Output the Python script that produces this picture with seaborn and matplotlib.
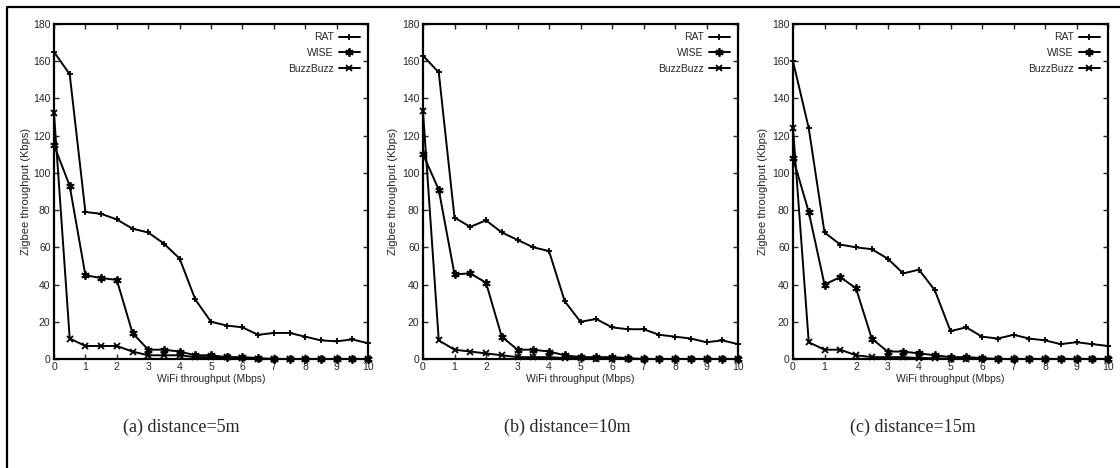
import numpy as np
import pandas as pd
import matplotlib
matplotlib.use("Agg")
import matplotlib.pyplot as plt
from matplotlib.lines import Line2D
import seaborn as sns

# ---- data ----
wifi_x = [0, 0.5, 1, 1.5, 2, 2.5, 3, 3.5, 4, 4.5, 5, 5.5, 6, 6.5, 7, 7.5, 8, 8.5, 9, 9.5, 10]

rat_5 = [165, 153, 79, 78, 75, 70, 68, 62, 54, 32, 20, 18, 17, 13, 14, 14, 12, 10, 9.5, 10.5, 8.5]
wise_5 = [115, 93, 45, 43.5, 42.5, 14, 5, 5, 4, 2, 2, 1, 1, 0.5, 0, 0, 0, 0, 0, 0, 0]
buzz_5 = [132, 11, 7, 7, 7, 4, 2, 2, 2, 1, 1, 1, 0.5, 0, 0, 0, 0, 0, 0, 0, 0]

rat_10 = [163, 154, 76, 71, 74.5, 68, 64, 60, 58, 31, 20, 21.5, 17, 16, 16, 13, 12, 11, 9, 10, 8]
wise_10 = [110, 91, 45.5, 46, 41, 12, 5, 5, 4, 2, 1, 1, 1, 0.5, 0, 0, 0, 0, 0, 0, 0]
buzz_10 = [133, 10, 5, 4, 3, 2, 1, 1, 1, 0.5, 0.5, 0, 0, 0, 0, 0, 0, 0, 0, 0, 0]

rat_15 = [160, 124, 68, 61.5, 60, 59, 54, 46, 48, 37, 15, 17, 12, 11, 13, 11, 10, 8, 9, 8, 7]
wise_15 = [108, 79, 40, 44, 38, 11, 4, 4, 3, 2, 1, 1, 0.5, 0, 0, 0, 0, 0, 0, 0, 0]
buzz_15 = [124, 9, 5, 5, 2, 1, 1, 1, 0.5, 0.5, 0, 0, 0, 0, 0, 0, 0, 0, 0, 0, 0]

series_names = ["RAT", "WISE", "BuzzBuzz"]
captions = ["(a) distance=5m", "(b) distance=10m", "(c) distance=15m"]
panels = [(rat_5, wise_5, buzz_5), (rat_10, wise_10, buzz_10), (rat_15, wise_15, buzz_15)]

x_ticks = list(range(0, 11))
y_ticks = list(range(0, 181, 20))
x_label = "WiFi throughput (Mbps)"
y_label = "Zigbee throughput (Kbps)"

# ---- style ----
sns.set_style("ticks")
plt.rcParams["font.family"] = ["Liberation Sans Narrow", "Liberation Sans", "DejaVu Sans"]

W, H = 1120, 468
fig = plt.figure(figsize=(W / 100, H / 100), dpi=100)

axes_px = [(54, 368), (423, 738), (793, 1108)]
top_px, bottom_px = 24, 359
caption_x = [181, 567, 913]

markers = ["+", (6, 2, 0), "x"]
msizes = [5, 6, 4.5]

for i, (vals, (l, r)) in enumerate(zip(panels, axes_px)):
    ax = fig.add_axes([l / W, 1 - bottom_px / H, (r - l) / W, (bottom_px - top_px) / H])
    for name, v, m, ms in zip(series_names, vals, markers, msizes):
        df = pd.DataFrame({"x": wifi_x, "y": v})
        sns.lineplot(data=df, x="x", y="y", ax=ax, color="black", lw=1.4,
                     marker=m, markersize=ms, markeredgewidth=1.3,
                     markeredgecolor="black", label=name, clip_on=False)
    ax.set_xlim(0, 10)
    ax.set_ylim(0, 180)
    ax.set_xticks(x_ticks)
    ax.set_yticks(y_ticks)
    ax.tick_params(direction="in", length=3.5, width=1.0, top=True, right=True,
                   labelsize=7.5, pad=2.5)
    for s in ax.spines.values():
        s.set_linewidth(1.6)
        s.set_color("black")
    ax.set_xlabel(x_label, fontsize=7.5)
    ax.set_ylabel(y_label, fontsize=8, family=["Liberation Sans", "DejaVu Sans"])
    ax.xaxis.set_label_coords(0.5, -0.045)
    ax.yaxis.set_label_coords(-0.072 if i == 0 else -0.08, 0.5)
    leg = ax.legend(loc="upper right", frameon=False, markerfirst=False,
                    fontsize=7.5, handlelength=2.0, handletextpad=0.5,
                    labelspacing=0.55, borderaxespad=0.4)
    fig.text(caption_x[i] / W, 1 - 427 / H, captions[i], ha="center", va="center",
             fontsize=13, family=["Liberation Serif", "DejaVu Serif"])

# outer frame (top and left edges)
fig.add_artist(Line2D([7 / W, 7 / W, 1.0], [0.0, 1 - 7 / H, 1 - 7 / H],
                      transform=fig.transFigure, color="black", lw=1.6))

fig.savefig("out.png", dpi=100)
